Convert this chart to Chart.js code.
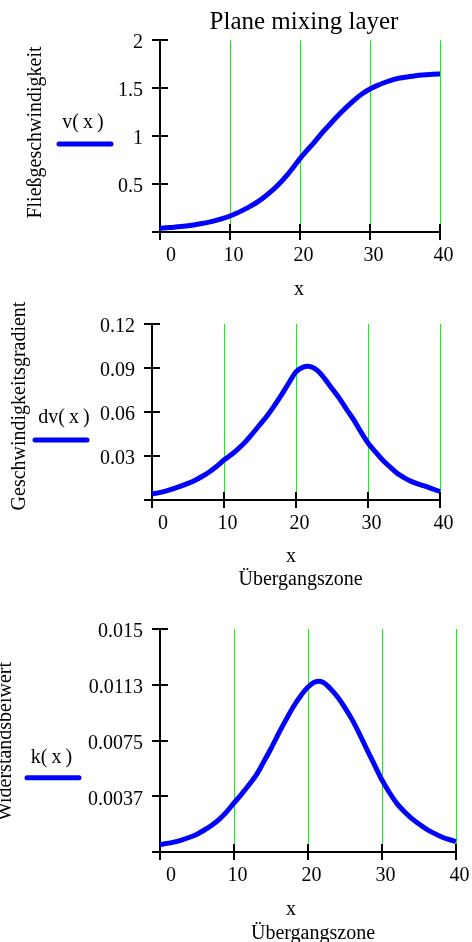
<!DOCTYPE html>
<html>
<head>
<meta charset="utf-8">
<script src="https://cdn.jsdelivr.net/npm/chart.js@4.4.1/dist/chart.umd.min.js"></script>
<style>
  html, body { margin: 0; padding: 0; background: #fff; }
  body { width: 472px; height: 942px; position: relative; overflow: hidden; }
  canvas { position: absolute; left: 0; }
</style>
</head>
<body>
<canvas id="velocity" width="472" height="300" style="top:0px"></canvas>
<canvas id="gradient" width="472" height="310" style="top:290px"></canvas>
<canvas id="drag" width="472" height="342" style="top:600px"></canvas>
<script>
// Position across the mixing layer
const xValues = [0, 1, 2, 3, 4, 5, 6, 7, 8, 9, 10, 11, 12, 13, 14, 15, 16, 17, 18, 19, 20,
                 21, 22, 23, 24, 25, 26, 27, 28, 29, 30, 31, 32, 33, 34, 35, 36, 37, 38, 39, 40];

// Flow velocity v(x)
const vValues = [0.040, 0.045, 0.050, 0.057, 0.066, 0.076, 0.088, 0.103, 0.121, 0.142, 0.167,
                 0.197, 0.233, 0.272, 0.316, 0.370, 0.430, 0.500, 0.580, 0.670, 0.765,
                 0.850, 0.930, 1.020, 1.100, 1.180, 1.255, 1.325, 1.390, 1.445, 1.490,
                 1.525, 1.555, 1.580, 1.600, 1.612, 1.622, 1.632, 1.639, 1.644, 1.646];

// Velocity gradient dv(x)
const dvValues = [0.0041, 0.0050, 0.0062, 0.0077, 0.0094, 0.0113, 0.0135, 0.0162, 0.0193, 0.0230, 0.0273,
                  0.0308, 0.0350, 0.0398, 0.0455, 0.0515, 0.0575, 0.0643, 0.0718, 0.0798, 0.0874,
                  0.0906, 0.0909, 0.0882, 0.0826, 0.0760, 0.0695, 0.0620, 0.0548, 0.0465, 0.0389,
                  0.0330, 0.0275, 0.0228, 0.0184, 0.0153, 0.0127, 0.0108, 0.0093, 0.0075, 0.0058];

// Drag coefficient k(x)
const kValues = [0.00050, 0.00058, 0.00068, 0.00082, 0.00099, 0.00120, 0.00148, 0.00180, 0.00220, 0.00270, 0.00330,
                 0.00387, 0.00450, 0.00517, 0.00605, 0.00696, 0.00795, 0.00887, 0.00975, 0.01050, 0.01110,
                 0.01145, 0.01142, 0.01100, 0.01043, 0.00970, 0.00887, 0.00790, 0.00685, 0.00585, 0.00484,
                 0.00400, 0.00327, 0.00272, 0.00226, 0.00188, 0.00154, 0.00127, 0.00103, 0.00085, 0.00070];

// Axis ticks and their printed labels
const xTicks = [0, 10, 20, 30, 40];
const xTickLabels = ['0', '10', '20', '30', '40'];
const vTicks = [0, 0.5, 1, 1.5, 2];
const vTickLabels = ['', '0.5', '1', '1.5', '2'];
const dvTicks = [0, 0.03, 0.06, 0.09, 0.12];
const dvTickLabels = ['', '0.03', '0.06', '0.09', '0.12'];
const kTicks = [0, 0.00375, 0.0075, 0.01125, 0.015];
const kTickLabels = ['', '0.0037', '0.0075', '0.0113', '0.015'];

const SERIF = '"Liberation Serif", "Times New Roman", Times, serif';
const W = 472;

// Axes that cross at the origin, with tick marks on both sides of each axis line
const crossAxes = {
  id: 'crossAxes',
  beforeDatasetsDraw(chart) {
    const { ctx, chartArea: a, scales: { x, y } } = chart;
    const t = 8;
    ctx.save();
    ctx.strokeStyle = '#000';
    ctx.lineWidth = 2;
    ctx.beginPath();
    ctx.moveTo(a.left - t, a.bottom); ctx.lineTo(a.right, a.bottom);
    ctx.moveTo(a.left, a.top); ctx.lineTo(a.left, a.bottom + t);
    x.ticks.forEach(tk => {
      if (tk.value === x.min) return;
      const p = Math.round(x.getPixelForValue(tk.value));
      ctx.moveTo(p, a.bottom - t); ctx.lineTo(p, a.bottom + t);
    });
    y.ticks.forEach(tk => {
      if (tk.value === y.min) return;
      const p = Math.round(y.getPixelForValue(tk.value));
      ctx.moveTo(a.left - t, p); ctx.lineTo(a.left + t, p);
    });
    ctx.stroke();
    ctx.restore();
  }
};

// Free-standing captions and the series key (name above a short line sample)
function captions(spec) {
  return {
    id: 'captions',
    afterDraw(chart) {
      const ctx = chart.ctx;
      const ds = chart.data.datasets[0];
      ctx.save();
      ctx.fillStyle = '#000';
      ctx.textAlign = 'center';
      spec.texts.forEach(t => {
        ctx.save();
        ctx.font = t.font;
        ctx.textBaseline = t.baseline || 'alphabetic';
        ctx.translate(t.x, t.y);
        if (t.rotate) ctx.rotate(t.rotate);
        ctx.fillText(t.text, 0, 0);
        ctx.restore();
      });
      const k = spec.key;
      ctx.font = '20px ' + SERIF;
      ctx.textBaseline = 'alphabetic';
      ctx.fillText(ds.label, k.tx, k.ty);
      ctx.strokeStyle = ds.borderColor;
      ctx.lineWidth = ds.borderWidth;
      ctx.lineCap = 'round';
      ctx.beginPath();
      ctx.moveTo(k.x1, k.y); ctx.lineTo(k.x2, k.y);
      ctx.stroke();
      ctx.restore();
    }
  };
}

function makeChart(id, p) {
  const points = xValues.map((x, i) => ({ x: x, y: p.values[i] }));
  return new Chart(document.getElementById(id), {
    type: 'line',
    data: {
      datasets: [{
        label: p.label,
        data: points,
        borderColor: '#0000ff',
        borderWidth: 5,
        pointRadius: 0,
        tension: 0.3,
        fill: false,
        clip: false
      }]
    },
    options: {
      responsive: false,
      animation: false,
      devicePixelRatio: 1,
      layout: { padding: { left: 0, top: p.area.top, right: W - p.area.right, bottom: 0 } },
      plugins: { legend: { display: false }, tooltip: { enabled: false }, title: { display: false } },
      scales: {
        x: {
          type: 'linear',
          min: xTicks[0],
          max: xTicks[xTicks.length - 1],
          afterFit: s => {
            s.height = p.canvasH - p.area.bottom;
            s.paddingLeft = 0;
            s.paddingRight = 0;
          },
          afterBuildTicks: s => { s.ticks = xTicks.map(v => ({ value: v })); },
          ticks: {
            // the origin label sits a little to the right of the crossing axes
            callback: (v, i) => (i === 0 ? '   ' : '') + xTickLabels[i],
            font: { family: SERIF, size: 20 },
            color: '#000',
            padding: 12,
            labelOffset: 3.5,
            maxRotation: 0,
            autoSkip: false
          },
          grid: {
            drawTicks: false,
            lineWidth: 1,
            color: '#00ff00'
          },
          border: { display: false }
        },
        y: {
          type: 'linear',
          min: p.yTicks[0],
          max: p.yTicks[p.yTicks.length - 1],
          afterFit: s => {
            s.width = p.area.left;
            s.paddingTop = 0;
            s.paddingBottom = 0;
          },
          afterBuildTicks: s => { s.ticks = p.yTicks.map(v => ({ value: v })); },
          ticks: {
            callback: (v, i) => p.yLabels[i],
            font: { family: SERIF, size: 20 },
            color: '#000',
            padding: 17,
            labelOffset: 3,
            autoSkip: false
          },
          grid: { display: false, drawTicks: false },
          border: { display: false }
        }
      }
    },
    plugins: [crossAxes, captions(p.captions)]
  });
}

const F20 = '20px ' + SERIF;
const UP = -Math.PI / 2;

makeChart('velocity', {
  label: 'v(\u2009x\u2009)',
  values: vValues,
  yTicks: vTicks,
  yLabels: vTickLabels,
  canvasH: 300,
  area: { left: 160, right: 440, top: 40, bottom: 232 },
  captions: {
    texts: [
      { text: 'Plane mixing layer', x: 304, y: 28.5, font: '25px ' + SERIF },
      { text: 'Fließgeschwindigkeit', x: 36, y: 132.5, font: F20, rotate: UP, baseline: 'middle' },
      { text: 'x', x: 299, y: 295, font: F20 }
    ],
    key: { tx: 83, ty: 128, x1: 59, x2: 111, y: 144 }
  }
});

makeChart('gradient', {
  label: 'dv(\u2009x\u2009)',
  values: dvValues,
  yTicks: dvTicks,
  yLabels: dvTickLabels,
  canvasH: 310,
  area: { left: 152, right: 440, top: 34, bottom: 210 },
  captions: {
    texts: [
      { text: 'Geschwindigkeitsgradient', x: 20, y: 116, font: F20, rotate: UP, baseline: 'middle' },
      { text: 'x', x: 291, y: 271.5, font: F20 },
      { text: 'Übergangszone', x: 300.5, y: 295, font: F20 }
    ],
    key: { tx: 64, ty: 133, x1: 35, x2: 87, y: 150 }
  }
});

makeChart('drag', {
  label: 'k(\u2009x\u2009)',
  values: kValues,
  yTicks: kTicks,
  yLabels: kTickLabels,
  canvasH: 342,
  area: { left: 160, right: 456, top: 29, bottom: 252 },
  captions: {
    texts: [
      { text: 'Widerstandsbeiwert', x: 6, y: 141.5, font: F20, rotate: UP, baseline: 'middle' },
      { text: 'x', x: 291, y: 315, font: F20 },
      { text: 'Übergangszone', x: 313, y: 338.5, font: F20 }
    ],
    key: { tx: 51.5, ty: 162.7, x1: 27, x2: 79, y: 177.7 }
  }
});
</script>
</body>
</html>
